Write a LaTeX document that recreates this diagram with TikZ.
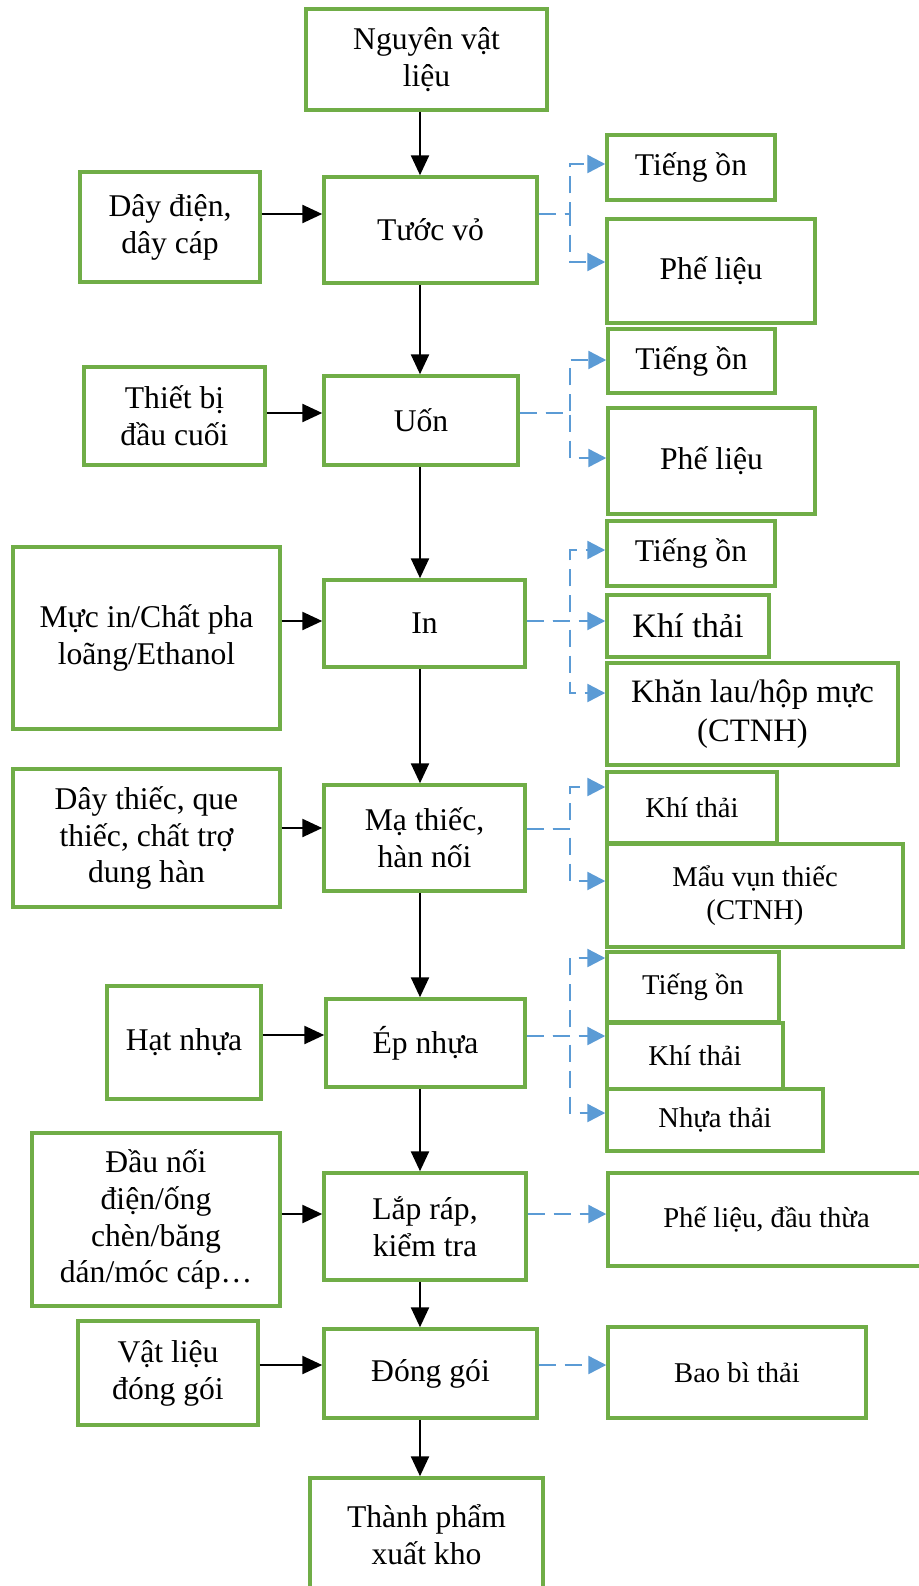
\documentclass[tikz,border=0pt]{standalone}
\usepackage{fontspec}
\setmainfont{Liberation Serif}
\usepackage{xcolor}
\usetikzlibrary{arrows.meta}
\definecolor{boxgreen}{HTML}{70AD47}
\definecolor{flowblue}{HTML}{5B9BD5}
\tikzset{every node/.append style={font=\fontsize{18}{21}\selectfont}}
\tikzset{
  box/.style={draw=boxgreen, line width=2pt, align=center, inner sep=2pt},
  smalltext/.style={font=\fontsize{16.3}{19}\selectfont},
  bigtext/.style={font=\fontsize{19.5}{23}\selectfont},
  flow/.style={-{Triangle[length=0.4cm, width=0.36cm]}, line width=1.4pt},
  waste/.style={-{Triangle[length=0.36cm, width=0.36cm]}, flowblue, line width=1.4pt, dash pattern=on 0.34cm off 0.18cm},
}

\begin{document}
\begin{tikzpicture}[x=0.02cm, y=-0.02cm]
    \useasboundingbox (0,0) rectangle (919,1586);
    \fill[white] (0,0) rectangle (919,1586);
    \coordinate (spine) at (420,0);

    % main line
    \node[box, minimum width=4.82cm, minimum height=2.02cm] (nvl) at (426.5,59.5) {Nguyên vật\\liệu};
    \node[box, minimum width=4.26cm, minimum height=2.12cm] (tv) at (430.5,230) {Tước vỏ};
    \node[box, minimum width=3.88cm, minimum height=1.78cm] (uon) at (421,420.5) {Uốn};
    \node[box, minimum width=4.02cm, minimum height=1.74cm] (in) at (424.5,623.5) {In};
    \node[box, minimum width=4.02cm, minimum height=2.12cm] (mt) at (424.5,838) {Mạ thiếc,\\hàn nối};
    \node[box, minimum width=3.98cm, minimum height=1.76cm] (ep) at (425.5,1043) {Ép nhựa};
    \node[box, minimum width=4.04cm, minimum height=2.14cm] (lr) at (425,1226.5) {Lắp ráp,\\kiểm tra};
    \node[box, minimum width=4.26cm, minimum height=1.78cm] (dg) at (430.5,1373.5) {Đóng gói};
    \node[box, minimum width=4.66cm, minimum height=2.28cm] (tp) at (426.5,1535) {Thành phẩm\\xuất kho};

    % inputs
    \node[box, minimum width=3.6cm, minimum height=2.2cm] (dd) at (170,227) {Dây điện,\\dây cáp};
    \node[box, minimum width=3.62cm, minimum height=1.96cm] (tb) at (174.5,416) {Thiết bị\\đầu cuối};
    \node[box, minimum width=5.34cm, minimum height=3.64cm] (mi) at (146.5,638) {Mực in/Chất pha\\loãng/Ethanol};
    \node[box, minimum width=5.34cm, minimum height=2.76cm] (dt) at (146.5,838) {Dây thiếc, que\\thiếc, chất trợ\\dung hàn};
    \node[box, minimum width=3.08cm, minimum height=2.26cm] (hn) at (184,1042.5) {Hạt nhựa};
    \node[box, minimum width=4.96cm, minimum height=3.46cm] (dn) at (156,1219.5) {Đầu nối\\điện/ống\\chèn/băng\\dán/móc cáp…};
    \node[box, minimum width=3.6cm, minimum height=2.08cm] (vl) at (168,1373) {Vật liệu\\đóng gói};

    % outputs
    \node[box, minimum width=3.36cm, minimum height=1.3cm] (to1) at (691,167.5) {Tiếng ồn};
    \node[box, minimum width=4.16cm, minimum height=2.08cm] (pl1) at (711,271) {Phế liệu};
    \node[box, minimum width=3.34cm, minimum height=1.28cm] (to2) at (691.5,361) {Tiếng ồn};
    \node[box, minimum width=4.14cm, minimum height=2.12cm] (pl2) at (711.5,461) {Phế liệu};
    \node[box, minimum width=3.36cm, minimum height=1.3cm] (to3) at (691,553.5) {Tiếng ồn};
    \node[box, bigtext, minimum width=3.24cm, minimum height=1.24cm] (kt3) at (688,626) {Khí thải};
    \node[box, font=\fontsize{18.6}{22}\selectfont, minimum width=5.82cm, minimum height=2.04cm] (kl) at (752.5,714) {Khăn lau/hộp mực\\(CTNH)};
    \node[box, smalltext, minimum width=3.4cm, minimum height=1.42cm] (kt4) at (692,807.5) {Khí thải};
    \node[box, smalltext, minimum width=5.92cm, minimum height=2.06cm] (mv) at (755,895.5) {Mẩu vụn thiếc\\(CTNH)};
    \node[box, smalltext, minimum width=3.44cm, minimum height=1.4cm] (to5) at (693,987) {Tiếng ồn};
    \node[box, smalltext, minimum width=3.52cm, minimum height=1.32cm] (kt5) at (695,1056) {Khí thải};
    \node[box, smalltext, minimum width=4.32cm, minimum height=1.24cm] (nt) at (715,1120) {Nhựa thải};
    \node[box, smalltext, minimum width=6.34cm, minimum height=1.86cm] (pd) at (766.5,1219.5) {Phế liệu, đầu thừa};
    \node[box, smalltext, minimum width=5.16cm, minimum height=1.82cm] (bb) at (737,1372.5) {Bao bì thải};

    % main flow
    \draw[flow] (nvl.south -| spine) -- (tv.north -| spine);
    \draw[flow] (tv.south -| spine) -- (uon.north -| spine);
    \draw[flow] (uon.south -| spine) -- (in.north -| spine);
    \draw[flow] (in.south -| spine) -- (mt.north -| spine);
    \draw[flow] (mt.south -| spine) -- (ep.north -| spine);
    \draw[flow] (ep.south -| spine) -- (lr.north -| spine);
    \draw[flow] (lr.south -| spine) -- (dg.north -| spine);
    \draw[flow] (dg.south -| spine) -- (tp.north -| spine);

    % inputs
    \draw[flow] (dd.east |- 0,214) -- (tv.west |- 0,214);
    \draw[flow] (tb.east |- 0,413) -- (uon.west |- 0,413);
    \draw[flow] (mi.east |- 0,621) -- (in.west |- 0,621);
    \draw[flow] (dt.east |- 0,828) -- (mt.west |- 0,828);
    \draw[flow] (hn.east |- 0,1035) -- (ep.west |- 0,1035);
    \draw[flow] (dn.east |- 0,1214) -- (lr.west |- 0,1214);
    \draw[flow] (vl.east |- 0,1365) -- (dg.west |- 0,1365);

    % waste streams
    \draw[waste] (tv.east |- 0,214) -- (570,214) |- (to1.west |- 0,164);
    \draw[waste] (tv.east |- 0,214) -- (570,214) |- (pl1.west |- 0,262);
    \draw[waste] (uon.east |- 0,413) -- (570,413) |- (to2.west |- 0,360);
    \draw[waste] (uon.east |- 0,413) -- (570,413) |- (pl2.west |- 0,458);
    \draw[waste] (in.east |- 0,621) -- (570,621) |- (to3.west |- 0,550);
    \draw[waste] (in.east |- 0,621) -- (kt3.west |- 0,621);
    \draw[waste] (in.east |- 0,621) -- (570,621) |- (kl.west |- 0,693);
    \draw[waste] (mt.east |- 0,829) -- (570,829) |- (kt4.west |- 0,787);
    \draw[waste] (mt.east |- 0,829) -- (570,829) |- (mv.west |- 0,881);
    \draw[waste] (ep.east |- 0,1036) -- (570,1036) |- (to5.west |- 0,958);
    \draw[waste] (ep.east |- 0,1036) -- (kt5.west |- 0,1036);
    \draw[waste] (ep.east |- 0,1036) -- (570,1036) |- (nt.west |- 0,1113);
    \draw[waste] (lr.east |- 0,1214) -- (pd.west |- 0,1214);
    \draw[waste] (dg.east |- 0,1365) -- (bb.west |- 0,1365);
\end{tikzpicture}
\end{document}
